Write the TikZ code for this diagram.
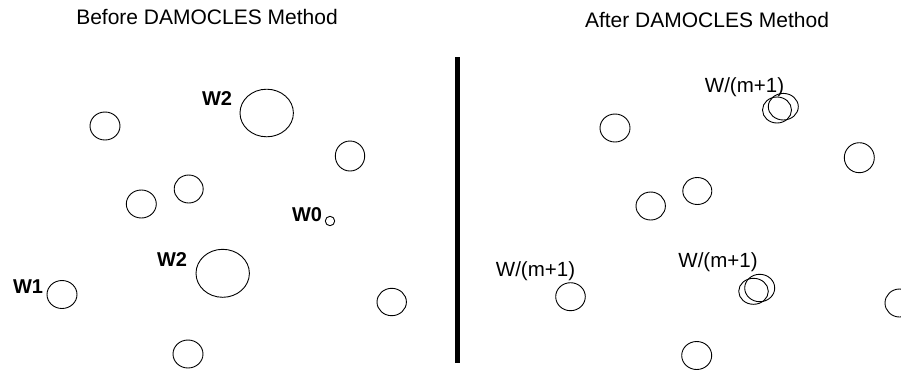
\documentclass[tikz,border=0pt]{standalone}
\usepackage{fontspec}
\setmainfont{Liberation Sans}
\begin{document}
\begin{tikzpicture}[x=1pt,y=-1pt,
  ttl/.style={inner sep=0pt,anchor=base,font=\fontsize{21}{24}\selectfont},
  lbl/.style={inner sep=0pt,anchor=base,font=\fontsize{20}{24}\selectfont\bfseries},
  lblr/.style={inner sep=0pt,anchor=base,font=\fontsize{20.5}{24}\selectfont},
  ring/.style={draw=black,line width=0.9pt}]
\useasboundingbox (0,0) rectangle (901,370);
\clip (0,0) rectangle (901,370);
% titles
\node[ttl] (tl) at (207,24) {Before DAMOCLES Method};
\node[ttl] (tr) at (707,27) {After DAMOCLES Method};
% divider
\coordinate (dtop) at (457,57);
\coordinate (dbot) at (457,363);
\draw[line width=5pt] (dtop) -- (dbot);
% left panel circles
\draw[ring] (105,126) ellipse (15pt and 14pt);
\draw[ring] (266.7,113) ellipse (26.7pt and 23.8pt);
\draw[ring] (350,156) ellipse (14.7pt and 15pt);
\draw[ring] (188.7,189) ellipse (14.5pt and 14pt);
\draw[ring] (141.3,204) ellipse (15pt and 14pt);
\draw[ring] (330,221) circle (4.7pt);
\draw[ring] (222.7,273.3) ellipse (26.7pt and 24pt);
\draw[ring] (62,294.5) ellipse (15pt and 14pt);
\draw[ring] (391.7,302) ellipse (14.7pt and 13.7pt);
\draw[ring] (188,354) ellipse (15pt and 14pt);
% left labels
\node[lbl] (w2a) at (217,105) {W2};
\node[lbl] (w0) at (307,221) {W0};
\node[lbl] (w2b) at (172,266) {W2};
\node[lbl] (w1) at (28,293) {W1};
% right panel circles
\draw[ring] (777,110) ellipse (14.5pt and 13pt);
\draw[ring] (783.3,106.7) ellipse (15pt and 13.3pt);
\draw[ring] (615,128) ellipse (15pt and 14pt);
\draw[ring] (859.3,157.7) ellipse (15pt and 15pt);
\draw[ring] (697.3,191) ellipse (14.5pt and 13.5pt);
\draw[ring] (650.7,206) ellipse (14.7pt and 14pt);
\draw[ring] (570.5,296.7) ellipse (14.8pt and 14pt);
\draw[ring] (753.5,291.3) ellipse (14.8pt and 13pt);
\draw[ring] (759.7,288) ellipse (15pt and 13.7pt);
\draw[ring] (899.5,303) ellipse (14.5pt and 14pt);
\draw[ring] (696.7,355.5) ellipse (15pt and 14pt);
% right labels
\node[lblr] (wt) at (744.5,92.5) {W/(m+1)};
\node[lblr] (wl) at (535.5,276.5) {W/(m+1)};
\node[lblr] (wm) at (718,267.5) {W/(m+1)};
\end{tikzpicture}
\end{document}
